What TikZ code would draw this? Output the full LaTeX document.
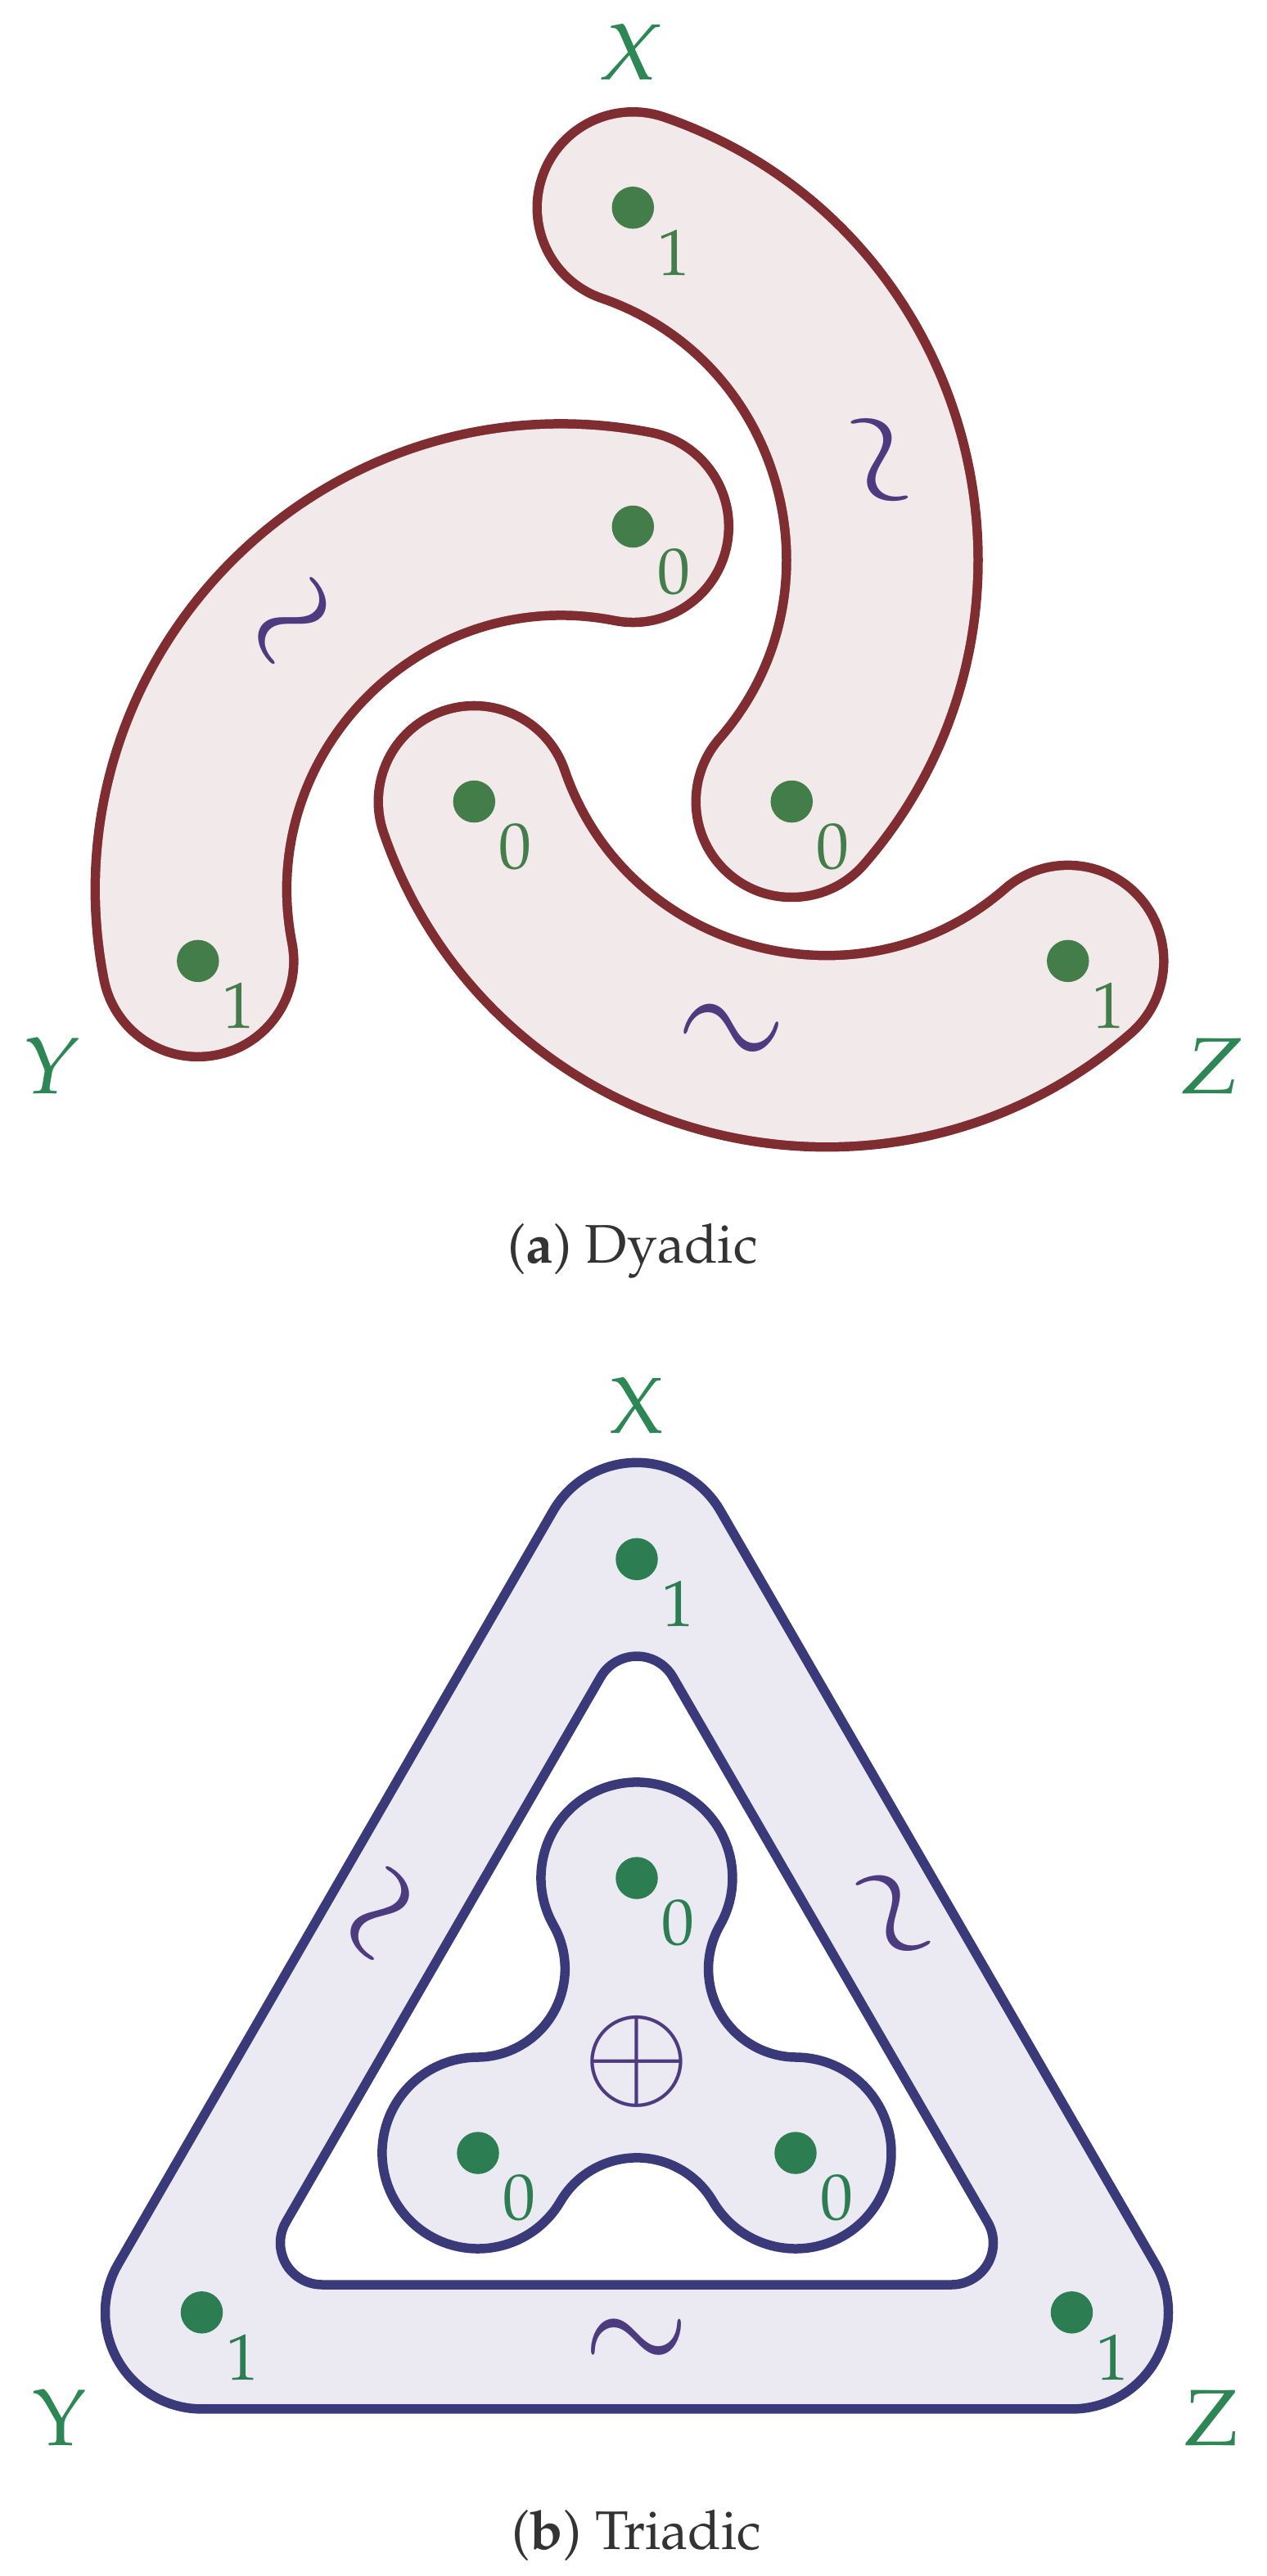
\documentclass[tikz,border=0pt]{standalone}
\usepackage[T1]{fontenc}
\usepackage{mathpazo}
\usepackage{graphicx}
\usetikzlibrary{backgrounds}

\definecolor{beanred}{RGB}{128,45,50}
\definecolor{beanfill}{RGB}{242,233,235}
\definecolor{dotgreena}{RGB}{67,126,74}
\definecolor{ringblue}{RGB}{58,58,122}
\definecolor{ringfill}{RGB}{235,234,242}
\definecolor{dotgreenb}{RGB}{45,125,82}
\definecolor{labelgreen}{RGB}{45,135,85}
\definecolor{tildepurple}{RGB}{77,59,128}
\definecolor{captiongray}{RGB}{51,51,51}

\newcommand{\wave}{\scalebox{1}[1.15]{$\sim$}}

\begin{document}
\begin{tikzpicture}
				\tikzstyle{dota} = [circle, fill=dotgreena, inner sep=0pt, minimum size=0.515cm]
				\tikzstyle{dotb} = [circle, fill=dotgreenb, inner sep=0pt, minimum size=0.515cm]
				\tikzstyle{digita} = [text=dotgreena, font=\fontsize{22.7}{27}\selectfont, inner sep=0pt]
				\tikzstyle{digitb} = [text=dotgreenb, font=\fontsize{22.7}{27}\selectfont, inner sep=0pt]
				\tikzstyle{corner} = [text=labelgreen, font=\fontsize{27.7}{33}\selectfont, inner sep=0pt]
				\tikzstyle{tilde} = [text=tildepurple, font=\fontsize{45}{48}\selectfont, inner sep=0pt]
				\tikzstyle{sum} = [text=tildepurple, font=\fontsize{46}{50}\selectfont, inner sep=0pt]
				\tikzstyle{bean} = [draw=beanred, line width=0.115cm, double=beanfill, double distance=2.225cm, line cap=round]
				\tikzstyle{ring} = [draw=ringblue, fill=ringfill, line width=0.115cm]
				\tikzstyle{caption} = [text=captiongray, font=\fontsize{18.9}{23}\selectfont, inner sep=0pt]
				
				\useasboundingbox (0,0) rectangle (15.48,-31.48);
				
				% (a) dyadic
				\begin{scope}[shift={(7.733,-8.675)}]
				\node[dota] (xa1) at (90:6.137) {};
				\node[dota] (ya1) at (210:6.137) {};
				\node[dota] (za1) at (330:6.137) {};
				\node[dota] (xa0) at (330:2.24) {};
				\node[dota] (ya0) at (90:2.24) {};
				\node[dota] (za0) at (210:2.24) {};
				
				\begin{scope}[on background layer]
				\draw [bean] (xa1.center) to[bend left=56, looseness=1.09] node[tilde, sloped] (ta1) {\wave} (xa0.center);
				\draw [bean] (ya1.center) to[bend left=56, looseness=1.09] node[tilde, sloped] (ta2) {\wave} (ya0.center);
				\draw [bean] (za1.center) to[bend left=56, looseness=1.09] node[tilde, sloped] (ta3) {\wave} (za0.center);
				\end{scope}
				
				\node[digita] (nxa1) at ([shift={(0.5,-0.55)}]xa1) {1};
				\node[digita] (nya1) at ([shift={(0.5,-0.55)}]ya1) {1};
				\node[digita] (nza1) at ([shift={(0.5,-0.55)}]za1) {1};
				\node[digita] (nxa0) at ([shift={(0.5,-0.55)}]xa0) {0};
				\node[digita] (nya0) at ([shift={(0.5,-0.55)}]ya0) {0};
				\node[digita] (nza0) at ([shift={(0.5,-0.55)}]za0) {0};
				
				\node[corner] (lxa) at (-0.02,8.04) {\textsl{X}};
				\node[corner] (lya) at (-7.14,-4.355) {\textsl{Y}};
				\node[corner] (lza) at (7.08,-4.355) {\textsl{Z}};
				
				\node[caption, anchor=base] (capa) at (0,-6.755) {(\textbf{a})~Dyadic};
				\end{scope}
				
				% (b) triadic
				\begin{scope}[shift={(7.78,-25.19)}]
				\draw [ring, even odd rule] (90:6.137) ++(30:1.18) arc[start angle=30, end angle=150, radius=1.18]
					-- ++(240:10.63) arc[start angle=150, end angle=270, radius=1.18]
					-- ++(0:10.63) arc[start angle=270, end angle=390, radius=1.18] -- cycle
					(90:4.44) ++(30:0.51) arc[start angle=30, end angle=150, radius=0.51]
					-- ++(240:7.69) arc[start angle=150, end angle=270, radius=0.51]
					-- ++(0:7.69) arc[start angle=270, end angle=390, radius=0.51] -- cycle;
				\draw [ring] (330:2.24) ++(210.4:1.17)
					arc[start angle=210.4, end angle=449.6, radius=1.17]
					arc[start angle=269.6, end angle=150.4, radius=1.08]
					arc[start angle=-29.6, end angle=209.6, radius=1.17]
					arc[start angle=29.6, end angle=-89.6, radius=1.08]
					arc[start angle=90.4, end angle=329.6, radius=1.17]
					arc[start angle=149.6, end angle=30.4, radius=1.08] -- cycle;
				
				\node[dotb] (xb1) at (90:6.137) {};
				\node[dotb] (yb1) at (210:6.137) {};
				\node[dotb] (zb1) at (330:6.137) {};
				\node[dotb] (xb0) at (90:2.24) {};
				\node[dotb] (yb0) at (210:2.24) {};
				\node[dotb] (zb0) at (330:2.24) {};
				
				\node[digitb] (nxb1) at ([shift={(0.5,-0.55)}]xb1) {1};
				\node[digitb] (nyb1) at ([shift={(0.5,-0.55)}]yb1) {1};
				\node[digitb] (nzb1) at ([shift={(0.5,-0.55)}]zb1) {1};
				\node[digitb] (nxb0) at ([shift={(0.5,-0.55)}]xb0) {0};
				\node[digitb] (nyb0) at ([shift={(0.5,-0.55)}]yb0) {0};
				\node[digitb] (nzb0) at ([shift={(0.5,-0.55)}]zb0) {0};
				
				\node[tilde, rotate=60] (tb1) at (150:3.495) {\wave};
				\node[tilde, rotate=-60] (tb2) at (30:3.495) {\wave};
				\node[tilde] (tb3) at (270:3.495) {\wave};
				\node[sum] (plus) at (0,0) {$\oplus$};
				
				\node[corner] (lxb) at (0,8.015) {X};
				\node[corner] (lyb) at (-7.05,-4.36) {Y};
				\node[corner] (lzb) at (7.02,-4.36) {Z};
				
				\node[caption, anchor=base] (capb) at (0,-5.96) {(\textbf{b})~Triadic};
				\end{scope}
				
\end{tikzpicture}
\end{document}
